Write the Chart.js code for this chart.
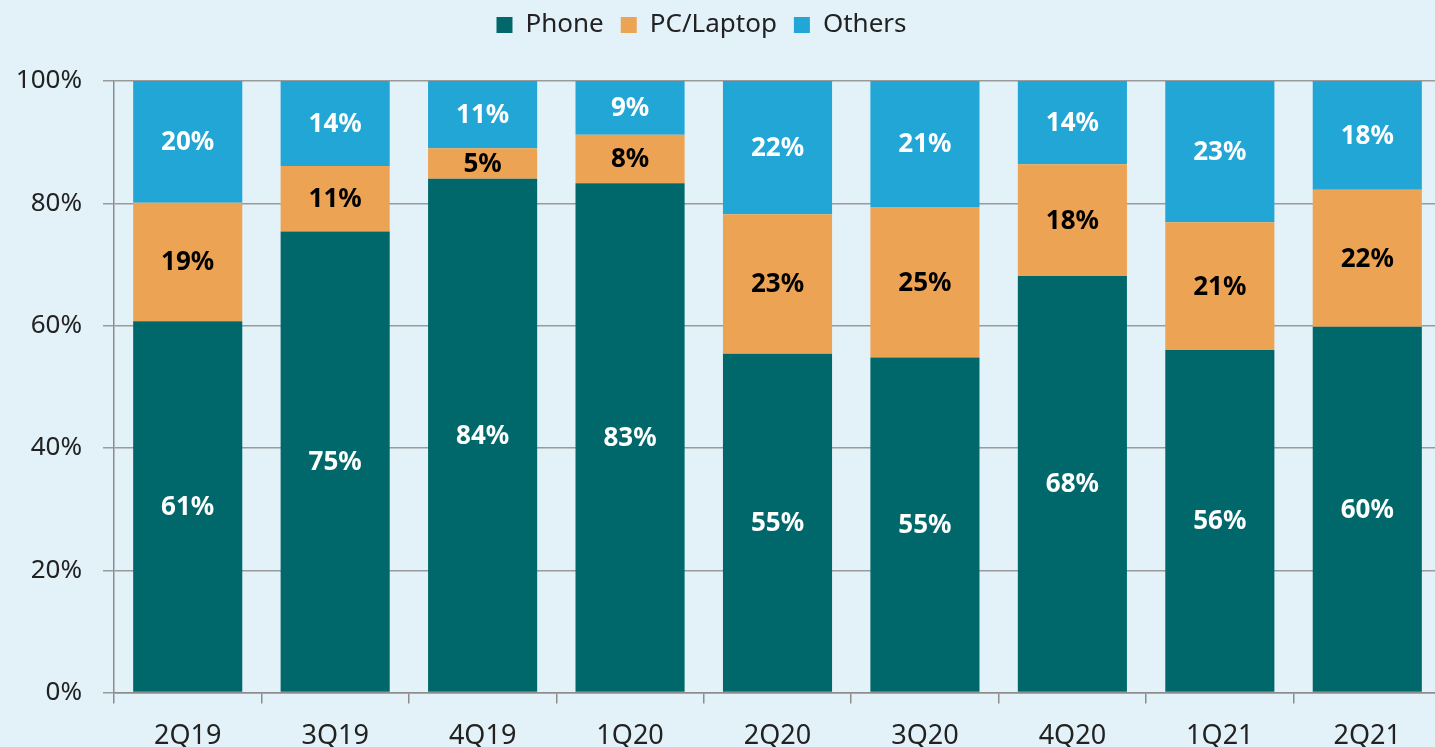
<!DOCTYPE html>
<html>
<head>
<meta charset="utf-8">
<script src="https://cdn.jsdelivr.net/npm/chart.js@4/dist/chart.umd.min.js"></script>
<style>
  html, body { margin: 0; padding: 0; overflow: hidden; background: #e3f2f8; }
  canvas { display: block; }
</style>
</head>
<body>
<canvas id="shareChart" width="1441" height="770"></canvas>
<script>
const quarters = ['2Q19', '3Q19', '4Q19', '1Q20', '2Q20', '3Q20', '4Q20', '1Q21', '2Q21'];
const phone = [60.7, 75.4, 84.0, 83.3, 55.4, 54.8, 68.1, 56.0, 59.8];
const pcLaptop = [19.4, 10.7, 5.0, 7.9, 22.8, 24.6, 18.3, 20.9, 22.4];
const others = [19.9, 13.9, 11.0, 8.8, 21.8, 20.6, 13.6, 23.1, 17.8];
const yTicks = [0, 20, 40, 60, 80, 100];

const FONT = '"Noto Sans", sans-serif';

// etiquetas de porcentaje en el centro de cada segmento
const segmentLabels = {
    id: 'segmentLabels',
    afterDatasetsDraw(chart) {
        const ctx = chart.ctx;
        ctx.save();
        ctx.textAlign = 'center';
        ctx.textBaseline = 'middle';
        ctx.font = 'bold 26px ' + FONT;
        chart.data.datasets.forEach((ds, i) => {
            const meta = chart.getDatasetMeta(i);
            meta.data.forEach((bar, j) => {
                const cy = (bar.y + bar.base) / 2;
                ctx.fillStyle = ds.labelColor;
                ctx.fillText(Math.round(ds.data[j]) + '%', bar.x, cy + 1);
            });
        });
        ctx.restore();
    }
};

// mas espacio debajo de la leyenda, y leyenda un poco a la izquierda
const legendSpace = {
    id: 'legendSpace',
    beforeInit(chart) {
        const origFit = chart.legend.fit;
        chart.legend.fit = function () {
            origFit.call(this);
            this.height += 28;
        };
    },
    afterLayout(chart) {
        chart.legend.left -= 19;
        chart.legend.right -= 19;
        chart.legend.top -= 5;
    }
};

const ctx = document.getElementById('shareChart').getContext('2d');
new Chart(ctx, {
    type: 'bar',
    data: {
        labels: quarters,
        datasets: [
            { label: 'Phone', data: phone, backgroundColor: '#00686b', labelColor: '#ffffff' },
            { label: 'PC/Laptop', data: pcLaptop, backgroundColor: '#eda354', labelColor: '#000000' },
            { label: 'Others', data: others, backgroundColor: '#21a6d6', labelColor: '#ffffff' }
        ]
    },
    options: {
        responsive: false,
        animation: false,
        barPercentage: 0.74,
        categoryPercentage: 1.0,
        layout: { padding: { left: 0, right: 0, top: 0, bottom: 0 } },
        scales: {
            x: {
                stacked: true,
                grid: {
                    offset: true,
                    drawOnChartArea: false,
                    drawTicks: true,
                    tickLength: 11,
                    color: '#8c8c8c',
                    lineWidth: 1.5
                },
                border: { display: true, color: '#8c8c8c', width: 1.5 },
                ticks: {
                    color: '#222222',
                    font: { family: FONT, size: 27 },
                    padding: 17
                }
            },
            y: {
                stacked: true,
                min: 0,
                max: 100,
                afterBuildTicks(axis) {
                    axis.ticks = yTicks.map(v => ({ value: v }));
                },
                afterFit(axis) {
                    axis.width = 114;
                },
                grid: {
                    color: '#9a9a9a',
                    lineWidth: 1.5,
                    tickLength: 11
                },
                border: { display: true, color: '#8c8c8c', width: 1.5 },
                ticks: {
                    color: '#222222',
                    font: { family: FONT, size: 26 },
                    padding: 21,
                    callback: v => v + '%'
                }
            }
        },
        plugins: {
            legend: {
                display: true,
                position: 'top',
                labels: {
                    color: '#222222',
                    font: { family: FONT, size: 26 },
                    boxWidth: 16,
                    boxHeight: 16,
                    padding: 17,
                    useBorderRadius: false
                }
            },
            tooltip: { enabled: false }
        }
    },
    plugins: [segmentLabels, legendSpace]
});
</script>
</body>
</html>
